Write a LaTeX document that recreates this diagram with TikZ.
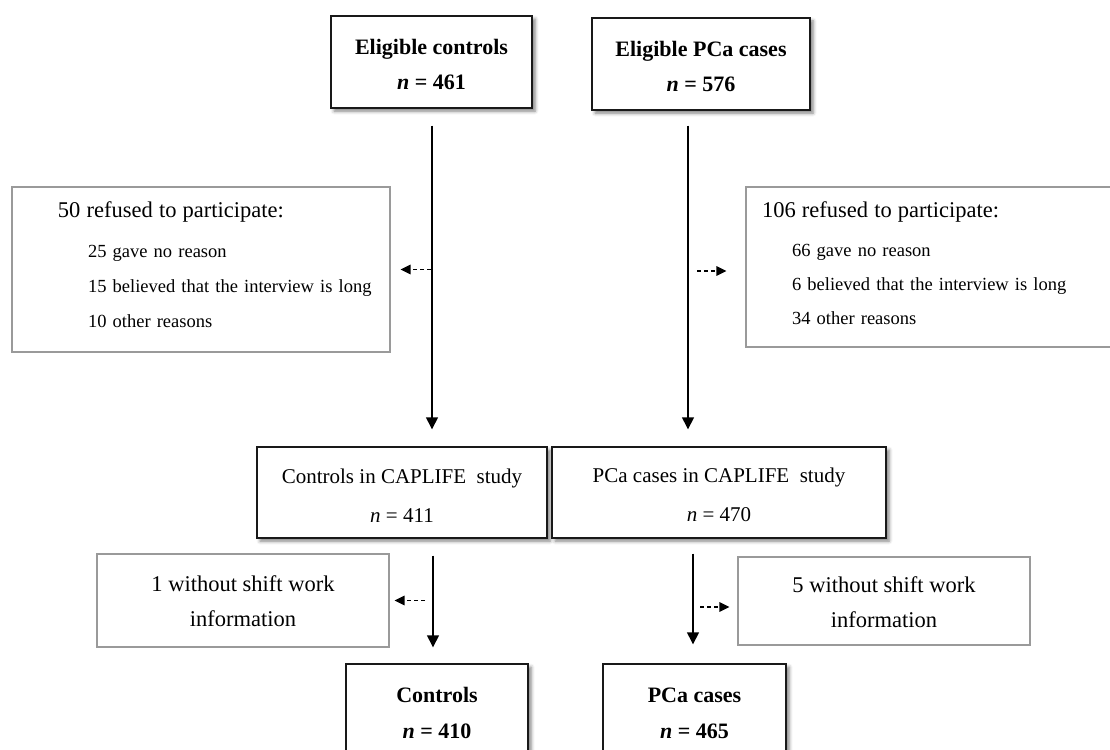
\documentclass[tikz,border=0pt]{standalone}
\usepackage{fontspec}
\setmainfont{Liberation Serif}
\usetikzlibrary{arrows.meta,shadows.blur}
\definecolor{sidegray}{HTML}{9A9A9A}
\tikzset{
  mainbox/.style={draw=black!90, line width=1.4pt, fill=white, align=center, inner sep=0pt,
    blur shadow={shadow xshift=3pt, shadow yshift=-3pt, shadow blur radius=3.5pt, shadow opacity=50}},
  sidebox/.style={draw=sidegray, line width=1.1pt, fill=white, inner sep=0pt},
  flow/.style={line width=1.4pt, -{Triangle[length=12pt,width=12pt]}},
  exclude/.style={line width=1.2pt, dash pattern=on 4pt off 3pt, -{Triangle[length=10pt,width=9.5pt]}},
}
\newcommand{\nbold}{\textbf{\textit{n}}}
\begin{document}
\begin{tikzpicture}[x=1pt,y=-1pt]
\useasboundingbox (0,0) rectangle (1110,749);
\clip (0,0) rectangle (1110,749);

% column coordinates for the vertical flows
\coordinate (cL) at (432,0);
\coordinate (cR) at (688,0);
\coordinate (dL) at (433,0);
\coordinate (dR) at (693,0);

% top boxes
\node[mainbox, minimum width=201pt, minimum height=92pt, font=\fontsize{22}{35}\selectfont] (ec) at (431.5,62)
  {\rule{0pt}{21pt}\textbf{Eligible controls}\\\nbold{} \textbf{= 461}};
\node[mainbox, minimum width=218pt, minimum height=92pt, font=\fontsize{22}{35}\selectfont] (ep) at (701,64)
  {\rule{0pt}{21pt}\textbf{Eligible PCa cases}\\\nbold{} \textbf{= 576}};

% refused boxes
\node[sidebox, minimum width=378pt, minimum height=165pt, text width=378pt, align=left,
      font=\fontsize{18.5}{35}\selectfont] (refL) at (201,269.5)
  {\hspace*{46pt}{\fontsize{22.5}{35}\selectfont 50 refused to participate:}\\[5pt]
   \hspace*{76pt}25 gave no reason\\
   \hspace*{76pt}15 believed that the interview is long\\
   \hspace*{76pt}10 other reasons\rule[-10.5pt]{0pt}{10.5pt}};
\node[sidebox, minimum width=384pt, minimum height=160pt, text width=384pt, align=left,
      font=\fontsize{18.5}{34}\selectfont] (refR) at (938,267)
  {\hspace*{16pt}{\fontsize{22.5}{34}\selectfont 106 refused to participate:}\\[5pt]
   \hspace*{46pt}66 gave no reason\\
   \hspace*{46pt}6 believed that the interview is long\\
   \hspace*{46pt}34 other reasons\rule[-8.5pt]{0pt}{8.5pt}};

% middle boxes
\node[mainbox, minimum width=290pt, minimum height=91pt, font=\fontsize{21}{39}\selectfont] (mc) at (402,492.5)
  {\rule{0pt}{20pt}Controls in CAPLIFE\ \ study\\\textit{n} = 411};
\node[mainbox, minimum width=334pt, minimum height=91pt, font=\fontsize{21}{39}\selectfont] (mp) at (719,492.5)
  {\rule{0pt}{20pt}PCa cases in CAPLIFE\ \ study\\\textit{n} = 470};

% shift work exclusion boxes
\node[sidebox, minimum width=292pt, minimum height=93pt, align=center, font=\fontsize{22.5}{35}\selectfont] (wL) at (243,600.5)
  {\rule{0pt}{18pt}1 without shift work\\information};
\node[sidebox, minimum width=292pt, minimum height=88pt, align=center, font=\fontsize{22.5}{35}\selectfont] (wR) at (884,601)
  {\rule{0pt}{18pt}5 without shift work\\information};

% final boxes
\node[mainbox, minimum width=182pt, minimum height=92pt, font=\fontsize{22}{36}\selectfont] (fc) at (437,710)
  {\rule{0pt}{21pt}\textbf{Controls}\\\nbold{} \textbf{= 410}};
\node[mainbox, minimum width=183pt, minimum height=92pt, font=\fontsize{22}{36}\selectfont] (fp) at (694.5,710)
  {\rule{0pt}{21pt}\textbf{PCa cases}\\\nbold{} \textbf{= 465}};

% arrow end points on the exclusion boxes
\coordinate (refRin) at ([yshift=-4pt]refR.west);
\coordinate (wRin) at ([yshift=-6pt]wR.west);

% main flows
\draw[flow, shorten <=17pt, shorten >=17pt] (ec.south -| cL) -- (mc.north -| cL);
\draw[flow, shorten <=15pt, shorten >=17pt] (ep.south -| cR) -- (mp.north -| cR);
\draw[flow, shorten <=17pt, shorten >=16pt] (mc.south -| dL) -- (fc.north -| dL);
\draw[flow, shorten <=15pt, shorten >=19pt] (mp.south -| dR) -- (fp.north -| dR);

% exclusion arrows
\draw[exclude, shorten <=1pt, shorten >=10pt] (cL |- refL.east) -- (refL.east);
\draw[exclude, shorten <=9pt, shorten >=19pt] (cR |- refRin) -- (refRin);
\draw[exclude, shorten <=8pt, shorten >=5pt] (dL |- wL.east) -- (wL.east);
\draw[exclude, shorten <=7pt, shorten >=8pt] (dR |- wRin) -- (wRin);
\end{tikzpicture}
\end{document}
